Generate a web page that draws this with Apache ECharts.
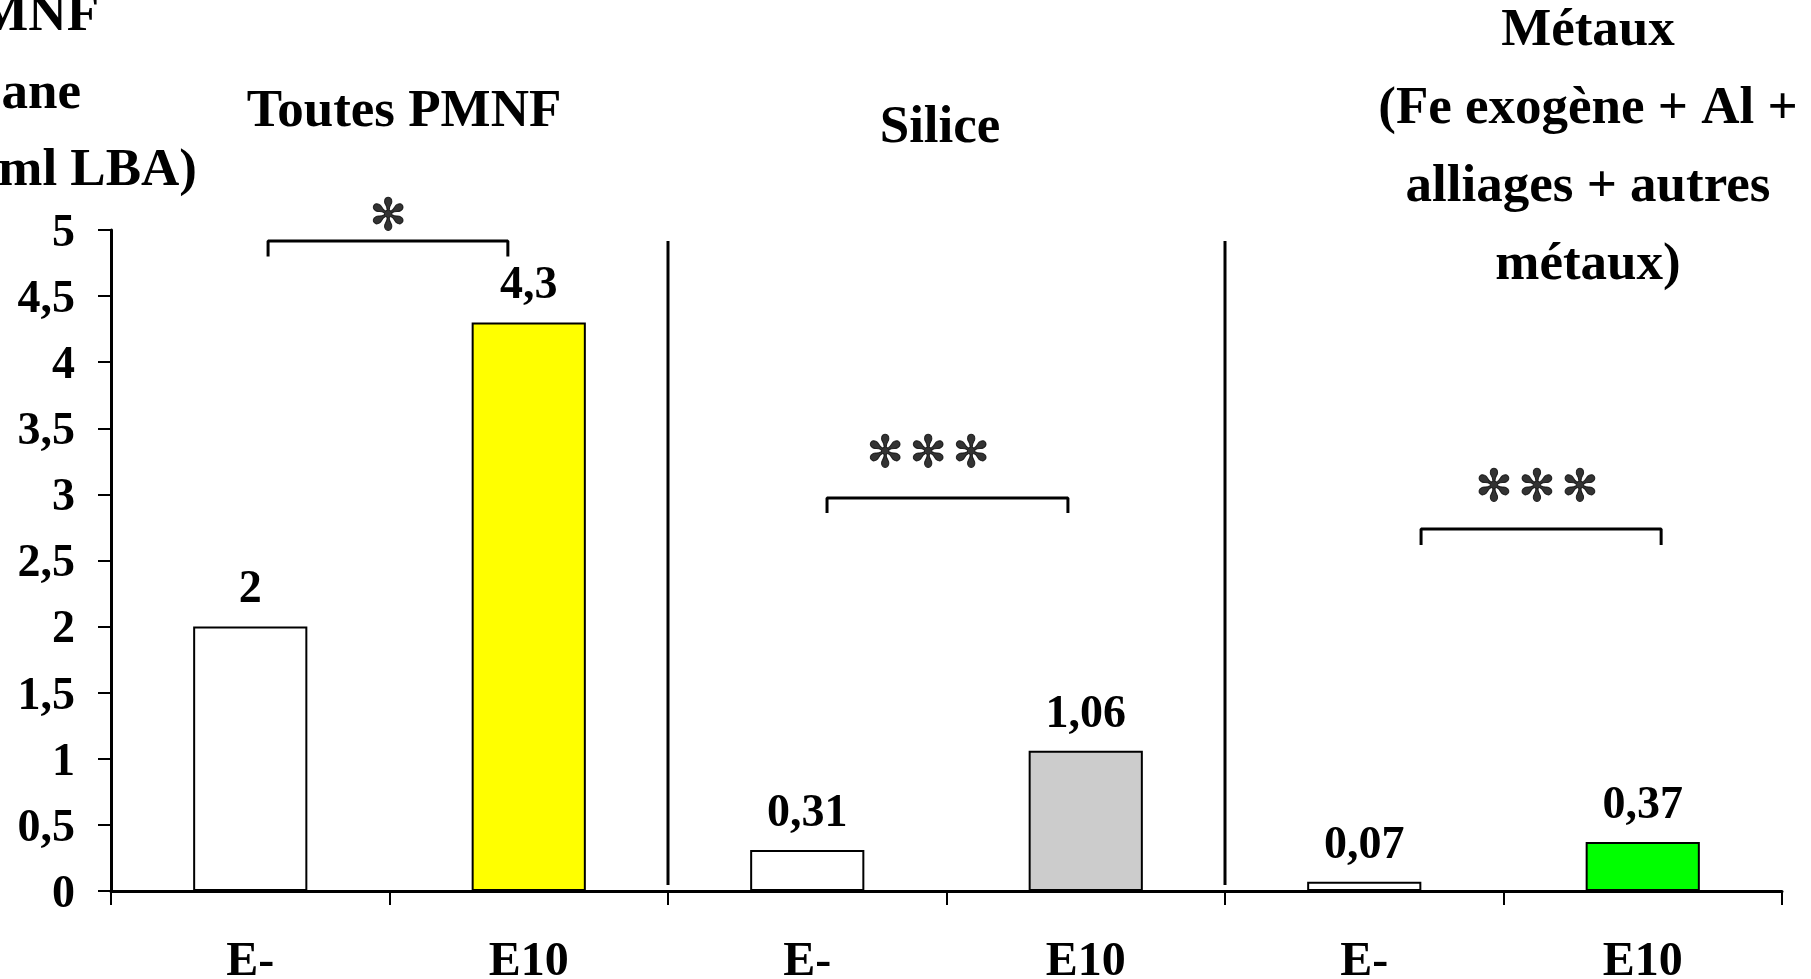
<!DOCTYPE html>
<html>
<head>
<meta charset="utf-8">
<script src="https://cdn.jsdelivr.net/npm/echarts@6/dist/echarts.min.js"></script>
<style>
html,body{margin:0;padding:0;background:#fff;}
#chart{width:1811px;height:979px;}
</style>
</head>
<body>
<div id="chart"></div>
<script>
// ---- data ----
const categories = ['E-', 'E10', 'E-', 'E10', 'E-', 'E10'];
const values = [2, 4.3, 0.31, 1.06, 0.07, 0.37];
const barColors = ['#FFFFFF', '#FFFF00', '#FFFFFF', '#CCCCCC', '#FFFFFF', '#00FF00'];
const yMin = 0, yMax = 5, yStep = 0.5;
const groupTitles = ['Toutes PMNF', 'Silice', 'Métaux\n(Fe exogène + Al +\nalliages + autres\nmétaux)'];
const yTitleParts = ['MNF', 'ane', 'ml LBA)'];
// significance brackets (in group units 0..6 on a hidden x scale)
const brackets = [
  { x1: 0.564, x2: 1.425, top: 4.917, low: 4.80 },
  { x1: 2.571, x2: 3.436, top: 2.973, low: 2.859 },
  { x1: 4.704, x2: 5.566, top: 2.738, low: 2.617 }
];
const starGroups = [
  { x: 0.995, y: 5.09, count: 1 },
  { x: 2.934, y: 3.29, count: 3 },
  { x: 5.12, y: 3.04, count: 3 }
];
const separators = [2, 4];
const sepTop = 4.917, sepLow = 0.045;

const FONT = "'Liberation Serif', 'Times New Roman', serif";
const fmt = v => String(v).replace('.', ',');

const chart = echarts.init(document.getElementById('chart'), null, { renderer: 'canvas' });

const series = [{
  type: 'bar',
  xAxisIndex: 0,
  yAxisIndex: 0,
  barWidth: '41%',
  data: values.map((v, i) => ({ value: v, itemStyle: { color: barColors[i] } })),
  itemStyle: { borderColor: '#000', borderWidth: 2 },
  label: {
    show: true, position: 'top', distance: 13,
    fontFamily: FONT, fontWeight: 'bold', fontSize: 46, color: '#000',
    formatter: p => fmt(p.value)
  },
  silent: true
}];

brackets.forEach(b => {
  series.push({
    type: 'line', xAxisIndex: 1, yAxisIndex: 0, symbol: 'none', silent: true,
    lineStyle: { color: '#000', width: 3 },
    data: [[b.x1, b.low], [b.x1, b.top], [b.x2, b.top], [b.x2, b.low]]
  });
});
separators.forEach(x => {
  series.push({
    type: 'line', xAxisIndex: 1, yAxisIndex: 0, symbol: 'none', silent: true,
    lineStyle: { color: '#000', width: 3 },
    data: [[x, sepLow], [x, sepTop]]
  });
});
const starData = [];
starGroups.forEach(g => {
  for (let k = 0; k < g.count; k++) {
    starData.push({ value: [g.x, g.y], label: { offset: [(k - (g.count - 1) / 2) * 43, 0] } });
  }
});
series.push({
  type: 'scatter', xAxisIndex: 1, yAxisIndex: 0, symbolSize: 0, clip: false, silent: true,
  data: starData,
  label: {
    show: true, position: 'inside', formatter: '✻',
    fontFamily: "'DejaVu Sans', sans-serif", fontWeight: 'bold', fontSize: 44, color: '#000',
    textBorderColor: '#000', textBorderWidth: 1
  }
});

const titleFont = 'bold 53px ' + FONT;
chart.setOption({
  animation: false,
  backgroundColor: '#fff',
  grid: { left: 111, right: 29, top: 230, bottom: 88, containLabel: false, outerBoundsMode: 'none' },
  xAxis: [{
    type: 'category', data: categories,
    axisLine: { lineStyle: { color: '#000', width: 3 } },
    axisTick: { show: true, interval: 0, length: 14, lineStyle: { color: '#000', width: 2 } },
    axisLabel: { interval: 0, margin: 48, fontFamily: FONT, fontWeight: 'bold', fontSize: 48, color: '#000' },
    splitLine: { show: false }
  }, {
    type: 'value', min: 0, max: 6, show: false, position: 'bottom'
  }],
  yAxis: {
    type: 'value', min: yMin, max: yMax, interval: yStep,
    axisLine: { show: true, lineStyle: { color: '#000', width: 3 } },
    axisTick: { show: true, length: 13, lineStyle: { color: '#000', width: 2 } },
    axisLabel: { margin: 36, verticalAlign: 'top', lineHeight: 8, fontFamily: FONT, fontWeight: 'bold', fontSize: 46, color: '#000', formatter: v => fmt(v) },
    splitLine: { show: false }
  },
  graphic: [
    { type: 'text', x: 404, y: 112, style: { text: groupTitles[0], align: 'center', verticalAlign: 'middle', font: titleFont, fill: '#000' } },
    { type: 'text', x: 940, y: 128, style: { text: groupTitles[1], align: 'center', verticalAlign: 'middle', font: titleFont, fill: '#000' } },
    { type: 'text', x: 1588, y: 148, style: { text: groupTitles[2], align: 'center', verticalAlign: 'middle', lineHeight: 78, font: titleFont, fill: '#000' } },
    { type: 'text', x: 99, y: 16, style: { text: yTitleParts[0], align: 'right', verticalAlign: 'middle', font: titleFont, fill: '#000' } },
    { type: 'text', x: 81, y: 94, style: { text: yTitleParts[1], align: 'right', verticalAlign: 'middle', font: titleFont, fill: '#000' } },
    { type: 'text', x: 197, y: 171, style: { text: yTitleParts[2], align: 'right', verticalAlign: 'middle', font: titleFont, fill: '#000' } }
  ],
  series: series
});
</script>
</body>
</html>
